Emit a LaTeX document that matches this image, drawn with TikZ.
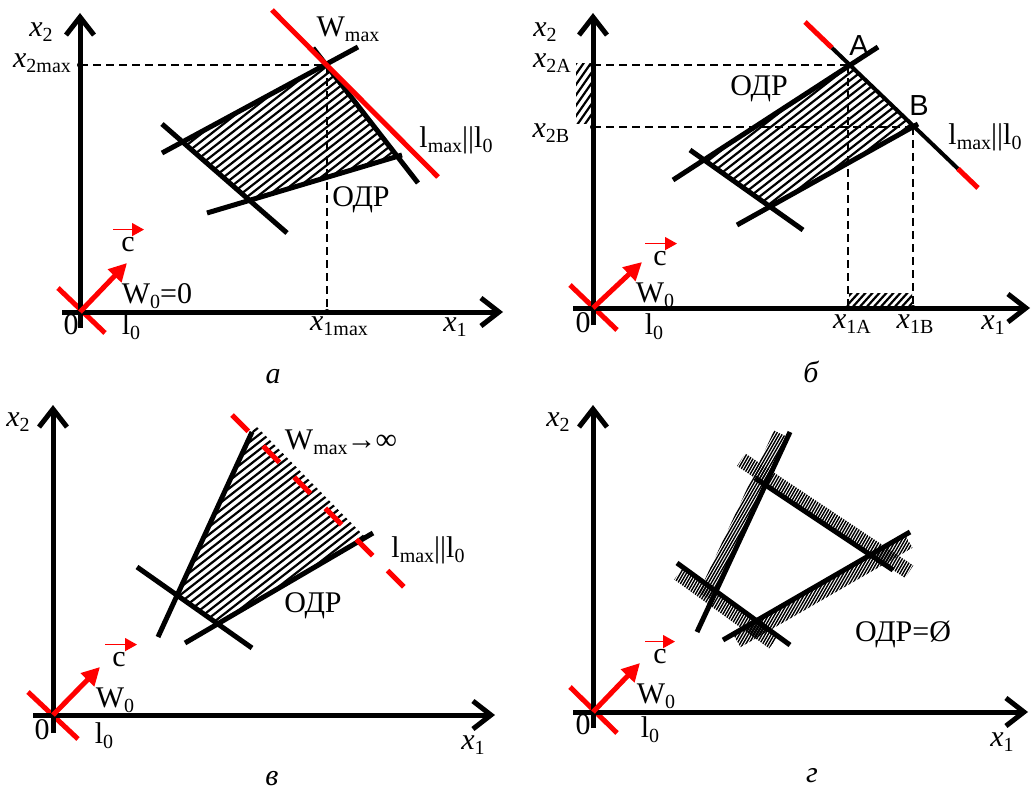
\documentclass[tikz,border=0pt]{standalone}
\usepackage{fontspec}
\setmainfont{Liberation Serif}
\newfontfamily\sansf{Liberation Sans}
\usetikzlibrary{arrows.meta,calc}
\newcommand\sbs[1]{\raisebox{-5pt}{\fontsize{20}{20}\selectfont #1}}
\newcommand\vx{\textit{x}}
% #1 cx, #2 cy, #3 horizontal spacing, #4 count, #5 dx, #6 dy, #7 style
\newcommand\hatchat[7]{%
  \foreach \k in {-#4,...,#4}{\draw[#7] ({#1+\k*#3-#5},{#2+#6}) -- ++({2*#5},{-2*#6});}}
\begin{document}
\begin{tikzpicture}[x=1pt,y=-1pt,
  ax/.style={line width=5pt,-{Straight Barb[length=18pt,width=28pt,line width=5pt]}},
  bl/.style={line width=5pt},
  rd/.style={line width=5pt,red},
  cv/.style={line width=5pt,red,-{Triangle[length=18pt,width=18pt]}},
  cvs/.style={line width=1.5pt,red,-{Triangle[length=12pt,width=13pt]}},
  dsh/.style={line width=1.6pt,dash pattern=on 8pt off 5pt},
  hatch/.style={line width=2.2pt},
  fine/.style={line width=1.4pt},
  lbl/.style={inner sep=0pt,font=\fontsize{30}{32}\selectfont},
  captxt/.style={inner sep=0pt,font=\fontsize{30}{32}\selectfont\itshape},
  dot/.style={circle,fill,inner sep=0pt,minimum size=6pt}]
\useasboundingbox (0,0) rectangle (1032,794);

% ================= panel a =================
\coordinate (aO) at (80,312);
\coordinate (aT) at (327,65);
\coordinate (aL) at (183,142);
\coordinate (aB) at (248,200);
\coordinate (aR) at (397,156);
\begin{scope}
  \clip (aT) -- (aR) -- (aB) -- (aL) -- cycle;
  \hatchat{290}{133}{9.75}{30}{150}{117}{hatch}
\end{scope}
\draw[dsh] (aO |- aT) -- (aT);
\draw[dsh] (aT) -- (aT |- aO);
\draw[bl] (162,153) -- (358,47);
\draw[bl] (162,124) -- (287,233);
\draw[bl] (207,213) -- (402,155);
\draw[bl] (313,48) -- (418,183);
\draw[rd] (272,10) -- (438,177);
\draw[rd] ($(aO)+(-22,-24)$) -- ($(aO)+(25,21)$);
\node[lbl] (aW0) at (157,296) {W\sbs{0}=0};
\draw[ax] (80,328) -- (80,13);
\draw[ax] (62,312) -- (503,312);
\draw[cv] (aO) -- ++(47,-49);
\node[dot] (ad1) at (aO |- aT) {};
\node[dot] (ad2) at (aT |- aO) {};
\node[lbl] (ax2) at (41,32) {\vx\sbs{2}};
\node[lbl] (ax2m) at (42,63) {\vx\sbs{2max}};
\node[lbl] (aWm) at (348,29) {W\sbs{max}};
\node[lbl] (alm) at (456,140) {l\sbs{max}||l\sbs{0}};
\node[lbl] (aodr) at (361,200) {ОДР};
\node[lbl] (ac) at (128,245) {c};
\draw[cvs] ($(ac.north)+(-15,-8)$) -- ++(31,0);
\node[lbl] (a0) at (71,325) {0};
\node[lbl] (al0) at (131,327) {l\sbs{0}};
\node[lbl] (ax1m) at (339,326) {\vx\sbs{1max}};
\node[lbl] (ax1) at (455,327) {\vx\sbs{1}};
\node[captxt] (acap) at (273,377) {а};

% ================= panel b =================
\coordinate (bO) at (593,308);
\coordinate (bA) at (848,65);
\coordinate (bB) at (913,127);
\coordinate (bL) at (703,160);
\coordinate (bD) at (770,207);
\coordinate (bR1) at (805,22);
\coordinate (bR2) at (978,188);
\begin{scope}
  \clip (bA) -- (bB) -- (bD) -- (bL) -- cycle;
  \hatchat{808}{136}{9.75}{30}{150}{117}{hatch}
\end{scope}
\begin{scope}
  \clip (576,64) rectangle (592,124);
  \hatchat{584}{94}{7.3}{12}{30}{43}{hatch}
\end{scope}
\begin{scope}
  \clip (849,293) rectangle (912,307);
  \hatchat{880}{300}{7}{14}{20}{22}{hatch}
\end{scope}
\draw[dsh] (bO |- bA) -- (bA);
\draw[dsh] (bO |- bB) -- (bB);
\draw[dsh] (bA) -- (bA |- bO);
\draw[dsh] (bB) -- (bB |- bO);
\draw[bl] (673,180) -- (878,47);
\draw[bl] (690,150) -- (803,230);
\draw[bl] (737,225) -- (918,124);
\draw[rd] (bR1) -- ($(bR1)!0.156!(bR2)$);
\draw[line width=4pt] ($(bR1)!0.156!(bR2)$) -- ($(bR1)!0.884!(bR2)$);
\draw[rd] ($(bR1)!0.884!(bR2)$) -- (bR2);
\draw[rd] ($(bO)+(-23,-23)$) -- ($(bO)+(24,22)$);
\node[lbl] (bW0) at (655,295) {W\sbs{0}};
\draw[ax] (593,325) -- (593,13);
\draw[ax] (573,308) -- (1030,308);
\draw[cv] (bO) -- ++(49,-46);
\node[dot] (bd1) at (bO |- bA) {};
\node[dot] (bd2) at (bO |- bB) {};
\node[dot] (bd3) at (bA |- bO) {};
\node[dot] (bd4) at (bB |- bO) {};
\node[lbl] (bx2) at (545,32) {\vx\sbs{2}};
\node[lbl] (bx2A) at (552,63) {\vx\sbs{2A}};
\node[lbl] (bx2B) at (551,133) {\vx\sbs{2B}};
\node[lbl] (bodr) at (759,89) {ОДР};
\node[lbl,font=\fontsize{29}{30}\selectfont\sansf] (bAl) at (859,46) {A};
\node[lbl,font=\fontsize{29}{30}\selectfont\sansf] (bBl) at (919,106) {B};
\node[lbl] (blm) at (985,137) {l\sbs{max}||l\sbs{0}};
\node[lbl] (bc) at (660,259) {c};
\draw[cvs] ($(bc.north)+(-15,-8)$) -- ++(32,0);
\node[lbl] (b0) at (583,323) {0};
\node[lbl] (bl0) at (654,327) {l\sbs{0}};
\node[lbl] (bx1A) at (852,324) {\vx\sbs{1A}};
\node[lbl] (bx1B) at (915,324) {\vx\sbs{1B}};
\node[lbl] (bx1) at (993,325) {\vx\sbs{1}};
\node[captxt] (bcap) at (811,372) {б};

% ================= panel c =================
\coordinate (cO) at (53,715);
\begin{scope}
  \clip (177,593) -- (253,430) -- (257,427) -- (365,537) -- (218,623) -- cycle;
  \hatchat{270}{525}{9.75}{30}{150}{117}{hatch}
\end{scope}
\draw[bl] (158,637) -- (252,432);
\draw[bl] (185,643) -- (373,533);
\draw[bl] (137,567) -- (252,648);
\draw[rd,dash pattern=on 23pt off 21pt] (232,415) -- (405,588);
\draw[rd] ($(cO)+(-25,-23)$) -- ($(cO)+(25,24)$);
\node[lbl] (cW0) at (115,700) {W\sbs{0}};
\draw[ax] (53,733) -- (53,405);
\draw[ax] (33,715) -- (495,715);
\draw[cv] (cO) -- ++(47,-48);
\node[lbl] (cx2) at (18,422) {\vx\sbs{2}};
\node[lbl] (cWm) at (341,442) {W\sbs{max}\kern-1pt→\kern-1pt∞};
\node[lbl] (clm) at (428,550) {l\sbs{max}||l\sbs{0}};
\node[lbl] (codr) at (313,606) {ОДР};
\node[lbl] (cc) at (119,660) {c};
\draw[cvs] ($(cc.north)+(-14,-8)$) -- ++(32,0);
\node[lbl] (c0) at (42,730) {0};
\node[lbl] (cl0) at (104,736) {l\sbs{0}};
\node[lbl] (cx1) at (473,745) {\vx\sbs{1}};
\node[captxt] (ccap) at (272,779) {в};

% ================= panel d =================
\coordinate (dO) at (593,712);
\begin{scope}
  \clip (711.9,600) -- (787.7,437) -- (774.1,430.6) -- (698.3,593.6) -- cycle;
  \hatchat{744}{516}{3.0}{70}{60}{104}{fine}
\end{scope}
\begin{scope}
  \clip (737,466) -- (905,578) -- (913.3,565.5) -- (745.3,453.5) -- cycle;
  \hatchat{825}{516}{3.0}{70}{60}{104}{fine}
\end{scope}
\begin{scope}
  \clip (733,634.2) -- (905,534.8) -- (912.5,547.8) -- (740.5,647.2) -- cycle;
  \hatchat{822}{590}{3.0}{70}{60}{104}{fine}
\end{scope}
\begin{scope}
  \clip (683,567.4) -- (778,636.3) -- (769.2,648.4) -- (674.2,579.5) -- cycle;
  \hatchat{727}{607}{3.0}{70}{60}{104}{fine}
\end{scope}
\draw[bl] (697,632) -- (790,432);
\draw[bl] (755,478) -- (893,570);
\draw[bl] (723,640) -- (910,532);
\draw[bl] (677,563) -- (790,645);
\draw[rd] ($(dO)+(-23,-25)$) -- ($(dO)+(24,21)$);
\node[lbl] (dW0) at (656,696) {W\sbs{0}};
\draw[ax] (593,728) -- (593,405);
\draw[ax] (573,712) -- (1028,712);
\draw[cv] (dO) -- ++(47,-49);
\node[lbl] (dx2) at (558,422) {\vx\sbs{2}};
\node[lbl] (dodr) at (903,634) {ОДР=Ø};
\node[lbl] (dc) at (660,657) {c};
\draw[cvs] ($(dc.north)+(-15,-8)$) -- ++(30,0);
\node[lbl] (d0) at (583,725) {0};
\node[lbl] (dl0) at (650,730) {l\sbs{0}};
\node[lbl] (dx1) at (1002,742) {\vx\sbs{1}};
\node[captxt] (dcap) at (812,776) {г};
\end{tikzpicture}
\end{document}
